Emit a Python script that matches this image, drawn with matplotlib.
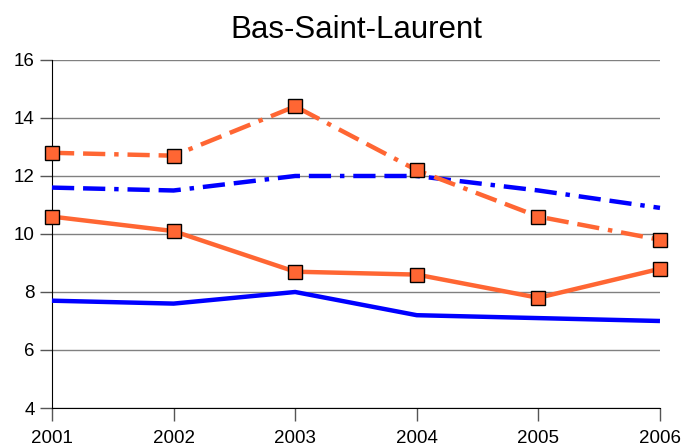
import matplotlib
matplotlib.use('Agg')
import matplotlib.pyplot as plt

# values
years = [2001, 2002, 2003, 2004, 2005, 2006]
orange_dashdot = [12.8, 12.7, 14.4, 12.2, 10.6, 9.8]
blue_dashdot = [11.6, 11.5, 12.0, 12.0, 11.5, 10.9]
orange_solid = [10.6, 10.1, 8.7, 8.6, 7.8, 8.8]
blue_solid = [7.7, 7.6, 8.0, 7.2, 7.1, 7.0]
y_ticks = [4, 6, 8, 10, 12, 14, 16]

plt.rcParams['font.family'] = ['Liberation Sans', 'DejaVu Sans']

orange = '#FF6633'
blue = '#0000FF'
dash = (0, (5, 2, 5, 2, 1, 2))

fig = plt.figure(figsize=(6.82, 4.46), dpi=100)
ax = fig.add_axes([0.0762, 0.0852, 0.8915, 0.7803])

ax.plot(years, blue_solid, color=blue, lw=3.2, solid_capstyle='butt', zorder=3, clip_on=False)
ax.plot(years, blue_dashdot, color=blue, lw=3.2, linestyle=dash, zorder=3, clip_on=False)
ax.plot(years, orange_solid, color=orange, lw=3.2, marker='s', ms=10.5,
        mec='black', mew=1, zorder=4, clip_on=False)
ax.plot(years, orange_dashdot, color=orange, lw=3.2, linestyle=dash, marker='s', ms=10.5,
        mec='black', mew=1, zorder=4, clip_on=False)

ax.set_xlim(2001, 2006)
ax.set_ylim(4, 16)
ax.set_yticks(y_ticks)
ax.set_xticks(years)
ax.yaxis.grid(True, color='#808080', lw=1)
ax.set_axisbelow(True)

for s in ['top', 'right']:
    ax.spines[s].set_visible(False)
ax.spines['left'].set_color('black')
ax.spines['bottom'].set_color('black')
ax.tick_params(axis='both', direction='out', length=9, width=1, labelsize=13.5, color='#555555')
ax.tick_params(axis='x', pad=7)

ax.set_title('Bas-Saint-Laurent', fontsize=22.5, pad=16)

fig.savefig('out.png', dpi=100)
